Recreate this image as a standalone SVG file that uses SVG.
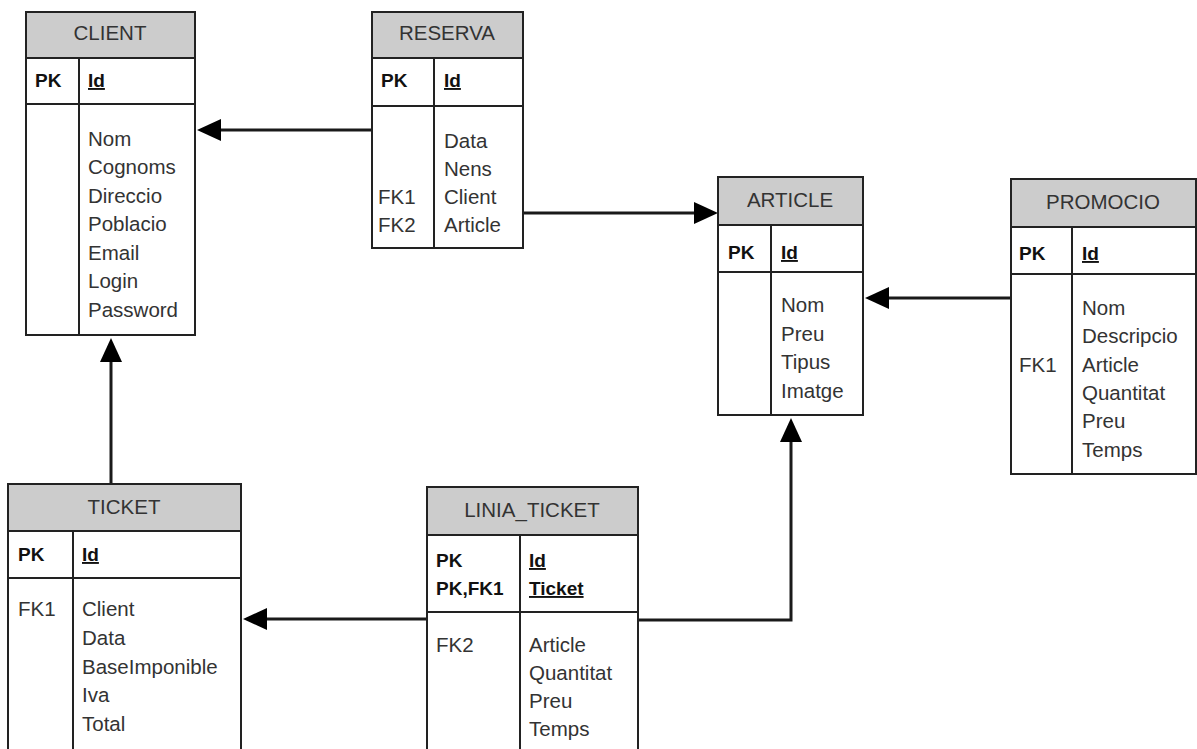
<svg xmlns="http://www.w3.org/2000/svg" width="1197" height="749" viewBox="0 0 1197 749">
<style>
.box{fill:#fff;stroke:#222;stroke-width:2}
.hdr{fill:#cccccc;stroke:#222;stroke-width:2}
.ln{stroke:#222;stroke-width:2;fill:none}
.t{font-family:"Liberation Sans",Arial,sans-serif;font-size:20.5px;fill:#333}
.h{text-anchor:middle}
.b{font-weight:bold;fill:#111;font-size:19px}
.u{text-decoration:underline}
.c{stroke:#1a1a1a;stroke-width:3;fill:none}
</style>
<defs>
<marker id="arr" markerUnits="userSpaceOnUse" markerWidth="26" markerHeight="24" refX="2" refY="12" orient="auto">
<path d="M0,1 L24,12 L0,23 z" fill="#000"/>
</marker>
</defs>
<rect width="1197" height="749" fill="#fff"/>

<g id="connectors">
<path class="c" d="M372,130 H219" marker-end="url(#arr)"/>
<path class="c" d="M523,213 H696" marker-end="url(#arr)"/>
<path class="c" d="M1011,298 H887" marker-end="url(#arr)"/>
<path class="c" d="M111,484 V360" marker-end="url(#arr)"/>
<path class="c" d="M427,619 H265" marker-end="url(#arr)"/>
<path class="c" d="M638,620 H791 V440" marker-end="url(#arr)"/>
</g>

<g id="client">
<rect class="box" x="26" y="12" width="169" height="323"/>
<rect class="hdr" x="26" y="12" width="169" height="46"/>
<path class="ln" d="M26,104 H195 M79,58 V335"/>
<text class="t h" x="110" y="40">CLIENT</text>
<text class="t b" x="35" y="87">PK</text>
<text class="t b u" x="88" y="87">Id</text>
<text class="t" x="88" y="146">Nom</text>
<text class="t" x="88" y="174">Cognoms</text>
<text class="t" x="88" y="203">Direccio</text>
<text class="t" x="88" y="231">Poblacio</text>
<text class="t" x="88" y="260">Email</text>
<text class="t" x="88" y="288">Login</text>
<text class="t" x="88" y="317">Password</text>
</g>

<g id="reserva">
<rect class="box" x="372" y="12" width="151" height="236"/>
<rect class="hdr" x="372" y="12" width="151" height="46"/>
<path class="ln" d="M372,106 H523 M434,58 V248"/>
<text class="t h" x="447" y="40">RESERVA</text>
<text class="t b" x="381" y="87">PK</text>
<text class="t b u" x="444" y="87">Id</text>
<text class="t" x="444" y="148">Data</text>
<text class="t" x="444" y="176">Nens</text>
<text class="t" x="378" y="204">FK1</text>
<text class="t" x="444" y="204">Client</text>
<text class="t" x="378" y="232">FK2</text>
<text class="t" x="444" y="232">Article</text>
</g>

<g id="article">
<rect class="box" x="718" y="177" width="145" height="238"/>
<rect class="hdr" x="718" y="177" width="145" height="48"/>
<path class="ln" d="M718,272 H863 M771,225 V415"/>
<text class="t h" x="790" y="207">ARTICLE</text>
<text class="t b" x="728" y="259">PK</text>
<text class="t b u" x="781" y="259">Id</text>
<text class="t" x="781" y="312">Nom</text>
<text class="t" x="781" y="341">Preu</text>
<text class="t" x="781" y="369">Tipus</text>
<text class="t" x="781" y="398">Imatge</text>
</g>

<g id="promocio">
<rect class="box" x="1011" y="179" width="185" height="295"/>
<rect class="hdr" x="1011" y="179" width="185" height="48"/>
<path class="ln" d="M1011,274 H1196 M1072,227 V474"/>
<text class="t h" x="1103" y="209">PROMOCIO</text>
<text class="t b" x="1019" y="260">PK</text>
<text class="t b u" x="1082" y="260">Id</text>
<text class="t" x="1082" y="315">Nom</text>
<text class="t" x="1082" y="343">Descripcio</text>
<text class="t" x="1019" y="372">FK1</text>
<text class="t" x="1082" y="372">Article</text>
<text class="t" x="1082" y="400">Quantitat</text>
<text class="t" x="1082" y="428">Preu</text>
<text class="t" x="1082" y="457">Temps</text>
</g>

<g id="ticket">
<rect class="box" x="8" y="484" width="233" height="270"/>
<rect class="hdr" x="8" y="484" width="233" height="47"/>
<path class="ln" d="M8,578 H241 M73,531 V754"/>
<text class="t h" x="124" y="514">TICKET</text>
<text class="t b" x="18" y="561">PK</text>
<text class="t b u" x="82" y="561">Id</text>
<text class="t" x="18" y="616">FK1</text>
<text class="t" x="82" y="616">Client</text>
<text class="t" x="82" y="645">Data</text>
<text class="t" x="82" y="674">BaseImponible</text>
<text class="t" x="82" y="702">Iva</text>
<text class="t" x="82" y="731">Total</text>
</g>

<g id="linia_ticket">
<rect class="box" x="427" y="487" width="211" height="267"/>
<rect class="hdr" x="427" y="487" width="211" height="48"/>
<path class="ln" d="M427,612 H638 M520,535 V754"/>
<text class="t h" x="532" y="517">LINIA_TICKET</text>
<text class="t b" x="436" y="567">PK</text>
<text class="t b" x="436" y="595">PK,FK1</text>
<text class="t b u" x="529" y="567">Id</text>
<text class="t b u" x="529" y="595">Ticket</text>
<text class="t" x="436" y="652">FK2</text>
<text class="t" x="529" y="652">Article</text>
<text class="t" x="529" y="680">Quantitat</text>
<text class="t" x="529" y="708">Preu</text>
<text class="t" x="529" y="736">Temps</text>
</g>
</svg>
